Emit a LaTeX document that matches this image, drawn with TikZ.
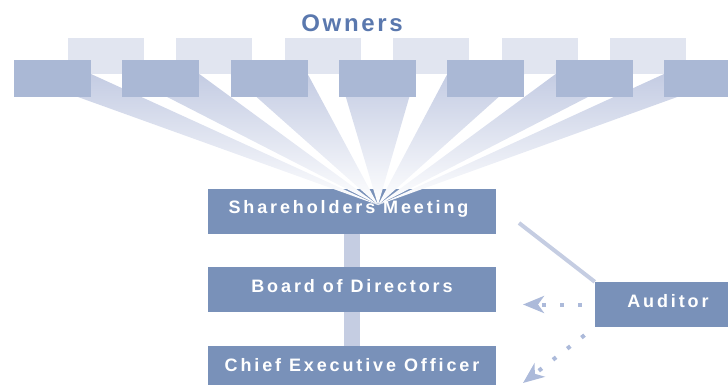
\documentclass[tikz,border=0pt]{standalone}
\usepackage{fontspec}
\setmainfont{Liberation Sans}
\newfontfamily\orgfont[LetterSpace=16]{Liberation Sans}
\newfontfamily\titlefont[LetterSpace=11]{Liberation Sans}
\usetikzlibrary{arrows.meta}
\definecolor{ownerdark}{RGB}{170,184,213}
\definecolor{ownerlight}{RGB}{225,229,240}
\definecolor{orgblue}{RGB}{121,145,185}
\definecolor{linkblue}{RGB}{197,205,226}
\definecolor{rayblue}{RGB}{196,204,227}
\definecolor{arrowblue}{RGB}{172,186,218}
\definecolor{titleblue}{RGB}{90,120,174}
\tikzset{
  ownerfront/.style={fill=ownerdark,minimum width=77pt,minimum height=37pt,inner sep=0pt},
  ownerback/.style={fill=ownerlight,minimum width=76pt,minimum height=36pt,inner sep=0pt},
  orgbox/.style={fill=orgblue,text=white,minimum height=45pt,inner sep=0pt,text height=13pt,text depth=8pt,
    font=\orgfont\bfseries\fontsize{18}{20}\selectfont},
  link/.style={draw=linkblue,line width=16pt},
  dotarrow/.style={draw=arrowblue,line width=4pt,dash pattern=on 4pt off 14pt,dash phase=5pt,
    -{Stealth[length=21pt,width=17pt,inset=6pt]}}
}

\begin{document}
\begin{tikzpicture}[x=1pt,y=-1pt]
		\useasboundingbox (0,0) rectangle (728,385);
		\clip (0,0) rectangle (728,385);
		\node[font=\titlefont\bfseries\fontsize{24}{26}\selectfont,text=titleblue,anchor=base] (owners) at (352,32) {Owners};
		\node[orgbox,minimum width=288pt] (share) at (352,211) {\hspace*{-7pt}Shareholders Meeting};
		\node[orgbox,minimum width=288pt] (board) at (352,289.5) {Board of Directors};
		\node[orgbox,minimum width=288pt] (ceo) at (352,368.5) {Chief Executive Officer};
		\node[orgbox,minimum width=146pt] (auditor) at (668,304.5) {Auditor};
		\draw[link] (share.south) -- (board.north);
		\draw[link] (board.south) -- (ceo.north);
		\coordinate (apex) at (378,205);
		\foreach \i in {0,...,6}
			\shade[top color=rayblue,bottom color=white] ({14+108.33*\i},74) -- ({91+108.33*\i},74) -- (apex) -- cycle;
		\foreach \i in {1,...,6}
			\node[ownerback] (back\i) at ({106+108.4*(\i-1)},56) {};
		\foreach \i in {1,...,7}
			\node[ownerfront] (owner\i) at ({52.5+108.33*(\i-1)},78.5) {};
		\coordinate (audlink) at (519,223);
		\coordinate (boardtip) at (523,304.5);
		\coordinate (ceotip) at (523,383);
		\draw[linkblue,line width=4pt] (auditor.north west) -- (audlink);
		\draw[dotarrow] (auditor.west) -- (boardtip);
		\draw[dotarrow] (auditor.south west) -- (ceotip);
\end{tikzpicture}
\end{document}
